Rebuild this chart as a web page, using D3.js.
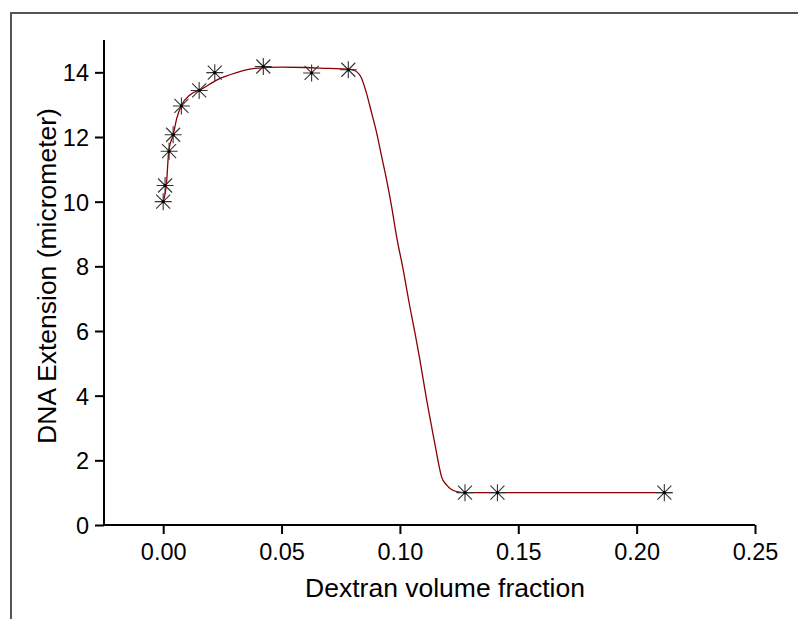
<html>
<head>
<meta charset="utf-8">
<title>DNA extension vs dextran</title>
<script src="https://cdn.jsdelivr.net/npm/d3@7/dist/d3.min.js"></script>
<style>
	body, html{
		margin: 0;
		padding: 0;
		background: #fff;
		overflow: hidden;
	}
	svg{
		display: block;
		font-family: 'Liberation Sans', Arial, sans-serif;
	}
	.tick-label{
		font-size: 23.5px;
		fill: #000;
	}
	.axis-title{
		font-size: 26.5px;
		fill: #000;
	}
</style>
</head>
<body>
<svg id="chart" width="798" height="619"></svg>
<script>
	// measured points
	var fraction = [0.000, 0.0008, 0.0025, 0.0042, 0.0077, 0.0152, 0.0218, 0.0423, 0.0627, 0.0782, 0.1275, 0.1412, 0.2117];
	var extension = [10.0, 10.5, 11.56, 12.07, 12.96, 13.44, 13.99, 14.18, 13.98, 14.08, 1.0, 1.0, 1.0];

	// fitted curve
	var fitX = [0.000, 0.0014, 0.0024, 0.0042, 0.0057, 0.0078, 0.0113, 0.0162, 0.0226, 0.0310, 0.0387, 0.050, 0.060, 0.070, 0.078,
		0.0810, 0.0838, 0.0859, 0.0881, 0.0902, 0.0923, 0.0944, 0.0965, 0.0986, 0.1014, 0.1042, 0.1064, 0.1082,
		0.1113, 0.1134, 0.1155, 0.1166, 0.1176, 0.1197, 0.1240, 0.1275, 0.1412, 0.2147];
	var fitY = [10.0, 10.57, 11.60, 12.06, 12.57, 12.99, 13.30, 13.48, 13.76, 13.99, 14.12, 14.16, 14.15, 14.12, 14.10,
		14.05, 13.82, 13.35, 12.73, 12.12, 11.39, 10.67, 9.85, 8.92, 7.89, 6.75, 5.93, 5.21,
		3.87, 3.04, 2.22, 1.80, 1.49, 1.24, 1.03, 1.0, 1.0, 1.0];

	var xMajor = [0.00, 0.05, 0.10, 0.15, 0.20, 0.25];
	var xMinor = [-0.025, 0.025, 0.075, 0.125, 0.175, 0.225];
	var yMajor = [0, 2, 4, 6, 8, 10, 12, 14];
	var yMinor = [1, 3, 5, 7, 9, 11, 13];

	var xTitle = 'Dextran volume fraction',
		yTitle = 'DNA Extension (micrometer)';

	var svg = d3.select('#chart'),
		plotLeft = 104, plotRight = 755, plotTop = 40, plotBottom = 525;

	var x = d3.scaleLinear().domain([-0.025, 0.25]).range([plotLeft, plotRight]),
		y = d3.scaleLinear().domain([0, 15]).range([plotBottom, plotTop]);

	// outer frame
	svg.append('path')
		.attr('d', 'M11,625 L11,13 L805,13')
		.attr('fill', 'none')
		.attr('stroke', '#555')
		.attr('stroke-width', 2);

	// x axis
	var xAxis = svg.append('g').attr('transform', 'translate(0,' + plotBottom + ')');
	xAxis.call(d3.axisBottom(x).tickValues(xMinor).tickSize(5).tickFormat(''));
	xAxis.call(d3.axisBottom(x).tickValues(xMajor).tickSize(9).tickFormat(d3.format('.2f')));
	xAxis.selectAll('.domain').attr('d', 'M' + plotLeft + ',0H' + plotRight).attr('stroke-width', 2).attr('stroke', '#000');
	xAxis.selectAll('.tick line').attr('stroke-width', 2).attr('stroke', '#000');
	xAxis.selectAll('.tick text').attr('class', 'tick-label')
		.attr('y', 35).attr('dy', null);

	// y axis
	var yAxis = svg.append('g').attr('transform', 'translate(' + plotLeft + ',0)');
	yAxis.call(d3.axisLeft(y).tickValues(yMinor).tickSize(5).tickFormat(''));
	yAxis.call(d3.axisLeft(y).tickValues(yMajor).tickSize(9).tickFormat(d3.format('d')));
	yAxis.selectAll('.domain').attr('d', 'M0,' + plotTop + 'V' + plotBottom).attr('stroke-width', 2).attr('stroke', '#000');
	yAxis.selectAll('.tick line').attr('stroke-width', 2).attr('stroke', '#000');
	yAxis.selectAll('.tick text').attr('class', 'tick-label')
		.attr('x', -15).attr('dy', '0.36em');

	// titles
	svg.append('text').attr('class', 'axis-title')
		.attr('x', 445).attr('y', 597)
		.attr('text-anchor', 'middle')
		.text(xTitle);
	svg.append('text').attr('class', 'axis-title')
		.attr('transform', 'translate(56,276) rotate(-90)')
		.attr('text-anchor', 'middle')
		.text(yTitle);

	// fit curve
	var fit = fitX.map(function(d, i){ return [d, fitY[i]]; });
	svg.append('path')
		.datum(fit)
		.attr('fill', 'none')
		.attr('stroke', '#8b0000')
		.attr('stroke-width', 1.3)
		.attr('d', d3.line().x(function(d){ return x(d[0]); }).y(function(d){ return y(d[1]); }).curve(d3.curveMonotoneX));

	// asterisk markers
	var r = 8.5, rd = 7;
	var star = 'M' + (-r) + ',0H' + r + 'M0,' + (-r) + 'V' + r +
		'M' + (-rd) + ',' + (-rd) + 'L' + rd + ',' + rd + 'M' + (-rd) + ',' + rd + 'L' + rd + ',' + (-rd);
	var pts = svg.append('g').selectAll('g')
		.data(fraction.map(function(d, i){ return [d, extension[i]]; }))
		.join('g')
		.attr('transform', function(d){ return 'translate(' + x(d[0]) + ',' + y(d[1]) + ')'; });
	pts.append('path').attr('d', star).attr('stroke', '#333').attr('stroke-width', 1.1).attr('fill', 'none');
	pts.append('circle').attr('r', 1.6).attr('fill', '#000');
</script>
</body>
</html>
